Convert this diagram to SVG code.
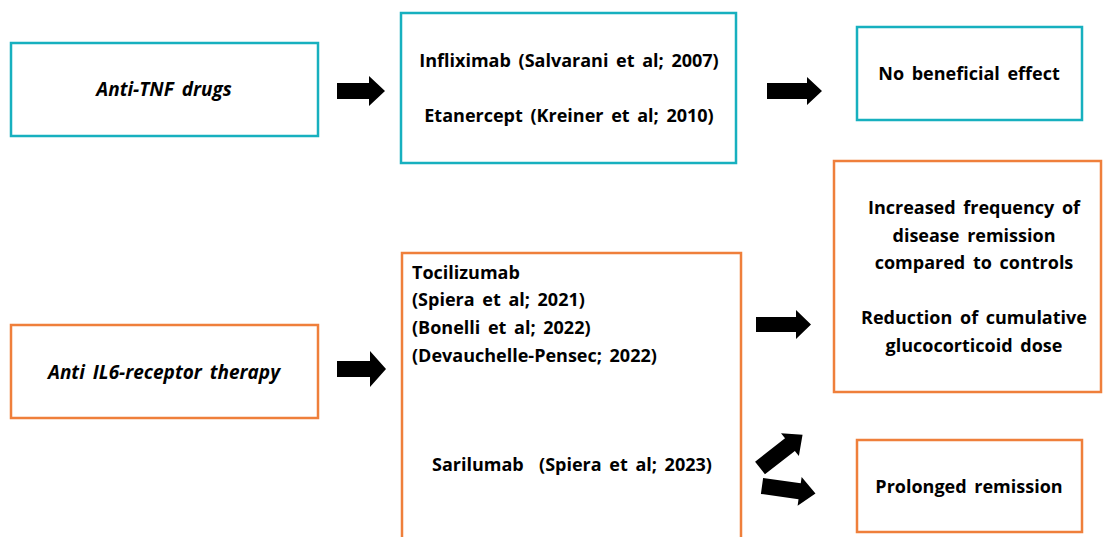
<svg xmlns="http://www.w3.org/2000/svg" width="1103" height="537" viewBox="0 0 1103 537">
<style>
.teal{fill:#fff;stroke:#17B0BF;stroke-width:2.5}
.orange{fill:#fff;stroke:#EF7F3B;stroke-width:2.5}
text{font-family:"Open Sans","Liberation Sans",Arial,sans-serif;font-size:18px;font-weight:bold;fill:#000;word-spacing:3px}
.c{text-anchor:middle}
.i{font-style:italic;font-size:19px}
.arrow{fill:#000}
</style>
<rect width="1103" height="537" fill="#fff"/>
<g id="anti-tnf">
<rect class="teal" x="11" y="43" width="307" height="93"/>
<text class="c i" x="164" y="96">Anti-TNF drugs</text>
</g>
<g id="tnf-drugs">
<rect class="teal" x="401" y="13" width="335" height="150"/>
<text class="c" x="569" y="67">Infliximab (Salvarani et al; 2007)</text>
<text class="c" x="569" y="122">Etanercept (Kreiner et al; 2010)</text>
</g>
<g id="no-effect">
<rect class="teal" x="857" y="27" width="225" height="93"/>
<text class="c" x="969" y="80">No beneficial effect</text>
</g>
<g id="anti-il6">
<rect class="orange" x="11" y="325" width="307" height="93"/>
<text class="c i" x="164" y="379">Anti IL6-receptor therapy</text>
</g>
<g id="il6-drugs">
<path class="orange" d="M402,540 V253 H741 V540"/>
<text x="412" y="279">Tocilizumab</text>
<text x="412" y="306">(Spiera et al; 2021)</text>
<text x="412" y="334">(Bonelli et al; 2022)</text>
<text x="412" y="362">(Devauchelle-Pensec; 2022)</text>
<text x="432" y="471" xml:space="preserve">Sarilumab  (Spiera et al; 2023)</text>
</g>
<g id="remission">
<rect class="orange" x="834" y="161" width="267" height="231"/>
<text class="c" x="974" y="214">Increased frequency of</text>
<text class="c" x="974" y="242">disease remission</text>
<text class="c" x="974" y="269">compared to controls</text>
<text class="c" x="974" y="324">Reduction of cumulative</text>
<text class="c" x="974" y="352">glucocorticoid dose</text>
</g>
<g id="prolonged">
<rect class="orange" x="857" y="440" width="225" height="92"/>
<text class="c" x="969" y="493">Prolonged remission</text>
</g>
<g id="connectors">
<path class="arrow" d="M337,83 H369 V76 L385,91 L369,106 V99 H337 Z"/>
<path class="arrow" d="M767,83 H807 V77 L822,91 L807,105 V99 H767 Z"/>
<path class="arrow" d="M337,361 H370 V351 L386,369 L370,387 V377 H337 Z"/>
<path class="arrow" d="M756,317 H796 V310 L811,324.5 L796,339 V332 H756 Z"/>
<path class="arrow" transform="translate(760,468) rotate(-38)" d="M0,-8 H38 V-14.5 L54,0 L38,14.5 V8 H0 Z"/>
<path class="arrow" transform="translate(762,486) rotate(8)" d="M0,-8 H38 V-14.5 L54,0 L38,14.5 V8 H0 Z"/>
</g>
</svg>
